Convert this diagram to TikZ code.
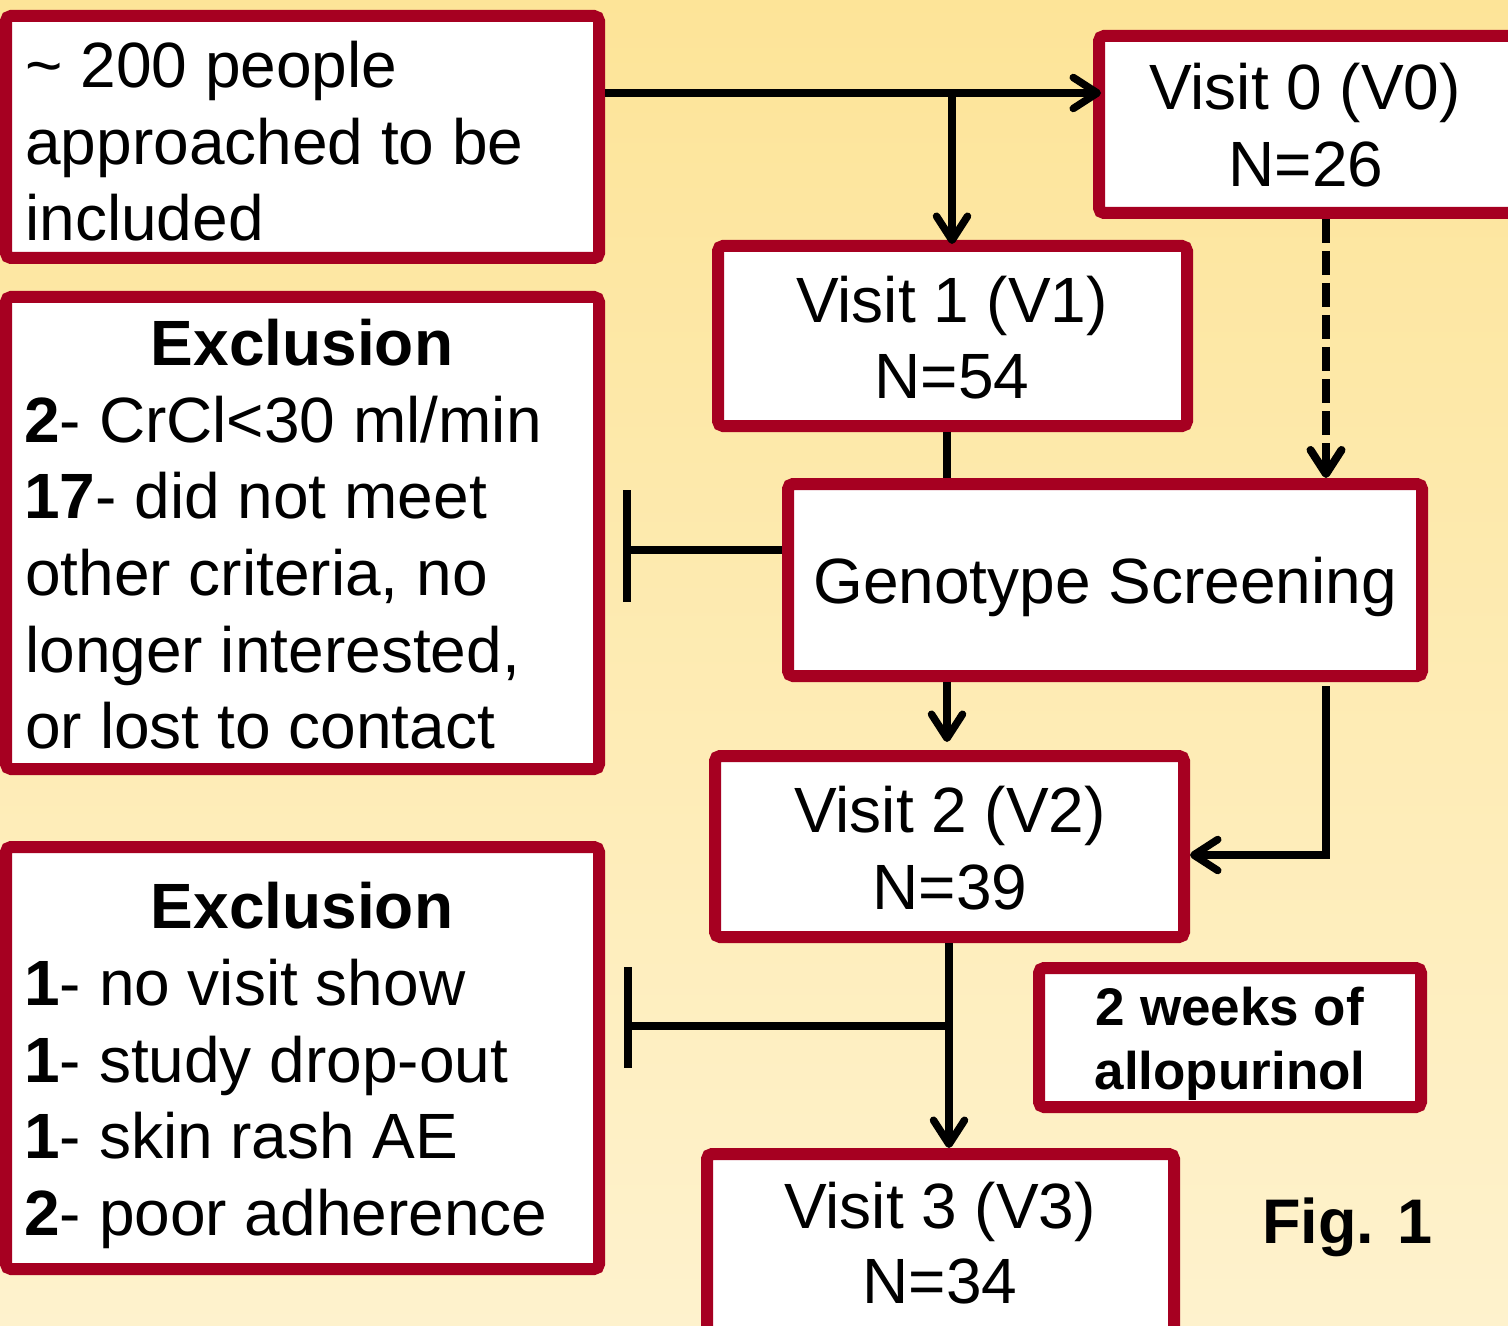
\documentclass[tikz,border=0pt]{standalone}
\usepackage{fontspec}
\setmainfont{Liberation Sans}
\usetikzlibrary{arrows.meta}
\definecolor{bred}{RGB}{166,0,33}
\definecolor{bgtop}{RGB}{253,228,152}
\definecolor{bgbot}{RGB}{254,242,205}
\begin{document}
\begin{tikzpicture}[x=0.5pt,y=-0.5pt,
  box/.style={draw=bred, line width=6pt, fill=white, rounded corners=2.5pt, inner sep=0pt, outer sep=3pt},
  txt/.style={font=\fontsize{32pt}{38pt}\selectfont, inner sep=0pt, text=black},
  btxt/.style={font=\fontsize{26.5pt}{31pt}\selectfont\bfseries, inner sep=0pt, text=black},
  ln/.style={line width=3.75pt, draw=black},
  dashline/.style={line width=4pt, dash pattern=on 12pt off 4pt},
  arr/.style={-{Straight Barb[length=12pt,width=15.5pt,round]}}]
\useasboundingbox (0,0) rectangle (1508,1326);
\clip (0,0) rectangle (1508,1326);
\shade[top color=bgtop, bottom color=bgbot] (0,0) rectangle (1508,1326);

% boxes
\node[box, minimum width=296.5pt, minimum height=121pt] (b0) at (302.5,137) {};
\node[box, minimum width=296.5pt, minimum height=236pt] (e1) at (302.5,533) {};
\node[box, minimum width=296.5pt, minimum height=211pt] (e2) at (302.5,1058) {};
\node[box, minimum width=210.5pt, minimum height=88.5pt] (V0) at (1309.5,124.5) {};
\node[box, minimum width=234.5pt, minimum height=90pt] (V1) at (952.5,336) {};
\node[box, minimum width=317pt, minimum height=96pt] (Geno) at (1105,580) {};
\node[box, minimum width=234.5pt, minimum height=90.5pt] (V2) at (949.5,846.5) {};
\node[box, minimum width=191pt, minimum height=69.5pt] (Allo) at (1230,1037.5) {};
\node[box, minimum width=233.5pt, minimum height=90pt] (V3) at (940.5,1244) {};

% texts
\node[txt, anchor=base west] (t0a) at (25,88) {\textasciitilde{} 200 people};
\node[txt, anchor=base west] (t0b) at (25,165) {approached to be};
\node[txt, anchor=base west] (t0c) at (25,241) {included};

\node[txt, anchor=base] (e1h) at (302,365) {\bfseries Exclusion};
\node[txt, anchor=base west] (e1a) at (24,442) {\textbf{2}- CrCl<30 ml/min};
\node[txt, anchor=base west] (e1b) at (24,518) {\textbf{17}- did not meet};
\node[txt, anchor=base west] (e1c) at (25,595) {other criteria, no};
\node[txt, anchor=base west] (e1d) at (25,672) {longer interested,};
\node[txt, anchor=base west] (e1e) at (25,748) {or lost to contact};

\node[txt, anchor=base] (e2h) at (302,928) {\bfseries Exclusion};
\node[txt, anchor=base west] (e2a) at (24,1005) {\textbf{1}- no visit show};
\node[txt, anchor=base west] (e2b) at (24,1082) {\textbf{1}- study drop-out};
\node[txt, anchor=base west] (e2c) at (24,1158) {\textbf{1}- skin rash AE};
\node[txt, anchor=base west] (e2d) at (24,1235) {\textbf{2}- poor adherence};

\node[txt, anchor=base] (v0a) at (1305,110) {Visit 0 (V0)};
\node[txt, anchor=base] (v0b) at (1306,187) {N=26};
\node[txt, anchor=base] (v1a) at (952,322) {Visit 1 (V1)};
\node[txt, anchor=base] (v1b) at (952,398) {N=54};
\node[txt, anchor=base] (gs) at (1105,603) {Genotype Screening};
\node[txt, anchor=base] (v2a) at (950,832) {Visit 2 (V2)};
\node[txt, anchor=base] (v2b) at (950,909) {N=39};
\node[btxt, anchor=base] (ala) at (1230,1025) {2 weeks of};
\node[btxt, anchor=base] (alb) at (1230,1089) {allopurinol};
\node[txt, anchor=base] (v3a) at (940,1228) {Visit 3 (V3)};
\node[txt, anchor=base] (v3b) at (940,1303) {N=34};
\node[txt, anchor=base west, font=\fontsize{31.5pt}{38pt}\selectfont\bfseries] (fig) at (1262,1243) {Fig. 1};

% junction coordinates
\coordinate (j0) at (952,93);
\coordinate (cx) at (947,700);
\coordinate (dx) at (1326,855);
\coordinate (bar1) at (627,550);
\coordinate (bar1t) at (627,490);
\coordinate (bar1b) at (627,602);
\coordinate (bar2) at (628,1026);
\coordinate (bar2t) at (628,967);
\coordinate (bar2b) at (628,1068);
\coordinate (cx2) at (949,1026);

% connectors
\draw[ln,arr,shorten >=-4pt] (b0.east |- j0) -- (V0.west |- j0);
\draw[ln,arr,shorten >=-2pt] (j0) -- (j0 |- V1.north);
\draw[ln,dashline,arr] (V0.south -| dx) -- (Geno.north -| dx);
\draw[ln] (V1.south -| cx) -- (Geno.north -| cx);
\draw[ln] (Geno.west |- bar1) -- (bar1);
\draw[ln] (bar1t) -- (bar1b);
\draw[ln,arr,shorten >=4pt] (Geno.south -| cx) -- (V2.north -| cx);
\draw[ln,arr] ([yshift=-2pt]Geno.south -| dx) -- (dx) -- (V2.east |- dx);
\draw[ln,arr] (V2.south -| cx2) -- (V3.north -| cx2);
\draw[ln] (cx2) -- (bar2);
\draw[ln] (bar2t) -- (bar2b);
\end{tikzpicture}
\end{document}
